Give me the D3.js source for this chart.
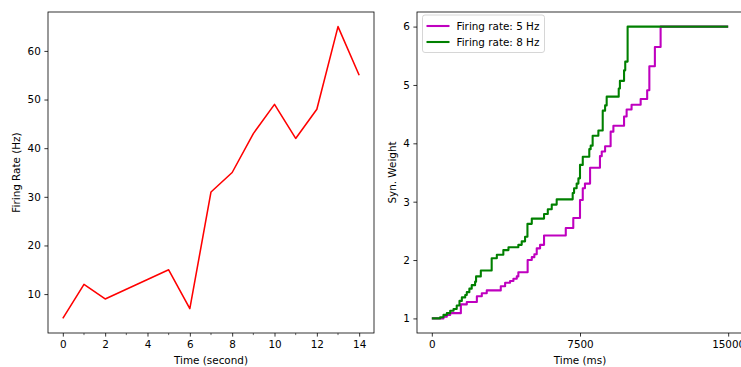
<!DOCTYPE html>
<html>
<head>
<meta charset="utf-8">
<script src="https://cdn.jsdelivr.net/npm/d3@7"></script>
<style>
    body { margin: 0; background: #fff; }
    svg { display: block; font-family: "DejaVu Sans", sans-serif; }
</style>
</head>
<body>
<div id="chart"></div>
<script>
// left panel: firing rate per second
const rateSeconds = [0, 1, 2, 3, 4, 5, 6, 7, 8, 9, 10, 11, 12, 13, 14];
const firingRate = [5, 12, 9, 11, 13, 15, 7, 31, 35, 43, 49, 42, 48, 65, 55];

// right panel: synaptic weight, value holds until the next change
const time5Hz = [0, 590, 760, 930, 1470, 1770, 2280, 2530, 2780, 3490, 3710, 3960, 4130, 4300, 4380,
    4850, 5060, 5190, 5310, 5480, 5680, 6780, 7160, 7500, 7640, 7750, 8010, 8510, 8600, 8770,
    9050, 9190, 9730, 9860, 10110, 10570, 10900, 11010, 11290, 11580, 15000];
const weight5Hz = [1.0, 1.03, 1.06, 1.09, 1.24, 1.28, 1.38, 1.43, 1.48, 1.55, 1.61, 1.64, 1.68, 1.72, 1.79,
    2.0, 2.05, 2.1, 2.2, 2.26, 2.42, 2.55, 2.72, 3.03, 3.23, 3.31, 3.58, 3.78, 3.86, 3.95,
    4.2, 4.3, 4.46, 4.58, 4.66, 4.76, 4.91, 5.32, 5.65, 6.0, 6.0];

const time8Hz = [0, 420, 590, 760, 930, 1100, 1260, 1400, 1520, 1690, 1770, 1900, 2020, 2190, 2240,
    2480, 3030, 3290, 3620, 3880, 4380, 4550, 4720, 4840, 5060, 5680, 5870, 6070, 6320, 7130,
    7200, 7330, 7420, 7500, 7640, 7970, 8040, 8140, 8430, 8650, 8770, 8850, 9460, 9520, 9730,
    9790, 9910, 15000];
const weight8Hz = [1.0, 1.02, 1.06, 1.09, 1.13, 1.16, 1.22, 1.3, 1.36, 1.4, 1.45, 1.51, 1.57, 1.63, 1.72,
    1.82, 2.03, 2.09, 2.17, 2.22, 2.26, 2.32, 2.4, 2.62, 2.71, 2.79, 2.87, 2.95, 3.04, 3.15,
    3.23, 3.31, 3.4, 3.63, 3.77, 3.9, 3.96, 4.13, 4.22, 4.56, 4.65, 4.8, 4.94, 5.07, 5.25,
    5.4, 6.0, 6.0];

const legendLabels = ["Firing rate: 5 Hz", "Firing rate: 8 Hz"];

const rateXTicks = [0, 2, 4, 6, 8, 10, 12, 14];
const rateXMinorTicks = [1, 3, 5, 7, 9, 11, 13];
const rateYTicks = [10, 20, 30, 40, 50, 60];
const weightXTicks = [0, 7500, 15000];
const weightYTicks = [1, 2, 3, 4, 5, 6];

const width = 741;
const height = 367;
const fontSize = 10.4;
const tickLen = 3.6;

const leftBox = { x0: 48, x1: 374, y0: 12, y1: 333 };
const rightBox = { x0: 417, x1: 743, y0: 12, y1: 333 };

const svg = d3.select("#chart")
    .append("svg")
    .attr("width", width)
    .attr("height", height)
    .style("overflow", "hidden");

function drawAxes(box, xScale, yScale, xTicks, yTicks, xLabel, yLabel, yLabelX, xFormat) {
    const g = svg.append("g");

    const xAxis = d3.axisBottom(xScale)
        .tickValues(xTicks)
        .tickSize(tickLen)
        .tickPadding(3.6)
        .tickSizeOuter(0)
        .tickFormat(xFormat || d3.format("d"));

    const yAxis = d3.axisLeft(yScale)
        .tickValues(yTicks)
        .tickSize(tickLen)
        .tickPadding(3.6)
        .tickSizeOuter(0)
        .tickFormat(d3.format("d"));

    const gx = g.append("g")
        .attr("transform", "translate(0," + box.y1 + ")")
        .call(xAxis);
    const gy = g.append("g")
        .attr("transform", "translate(" + box.x0 + ",0)")
        .call(yAxis);

    [gx, gy].forEach(a => {
        a.select(".domain").remove();
        a.attr("font-size", fontSize).attr("font-family", "DejaVu Sans");
        a.selectAll("line").attr("stroke", "#000").attr("stroke-width", 0.8);
        a.selectAll("text").attr("fill", "#000");
    });

    g.append("text")
        .attr("x", (box.x0 + box.x1) / 2)
        .attr("y", 363.5)
        .attr("text-anchor", "middle")
        .attr("font-size", fontSize)
        .text(xLabel);

    g.append("text")
        .attr("transform", "translate(" + yLabelX + "," + (box.y0 + box.y1) / 2 + ") rotate(-90)")
        .attr("text-anchor", "middle")
        .attr("font-size", fontSize)
        .text(yLabel);

    return g;
}

function drawFrame(box) {
    svg.append("rect")
        .attr("x", box.x0)
        .attr("y", box.y0)
        .attr("width", box.x1 - box.x0)
        .attr("height", box.y1 - box.y0)
        .attr("fill", "none")
        .attr("stroke", "#000")
        .attr("stroke-width", 0.8);
}

// ---- left panel ----
const xRate = d3.scaleLinear().domain([-0.7, 14.7]).range([leftBox.x0, leftBox.x1]);
const yRate = d3.scaleLinear().domain([2, 68]).range([leftBox.y1, leftBox.y0]);

drawAxes(leftBox, xRate, yRate, rateXTicks, rateYTicks, "Time (second)", "Firing Rate (Hz)", 20);

svg.append("g")
    .selectAll("line")
    .data(rateXMinorTicks)
    .join("line")
    .attr("x1", d => xRate(d))
    .attr("x2", d => xRate(d))
    .attr("y1", leftBox.y1)
    .attr("y2", leftBox.y1 + 2.1)
    .attr("stroke", "#000")
    .attr("stroke-width", 0.6);

const rateLine = d3.line()
    .x((d, i) => xRate(rateSeconds[i]))
    .y(d => yRate(d));

svg.append("path")
    .datum(firingRate)
    .attr("fill", "none")
    .attr("stroke", "#ff0000")
    .attr("stroke-width", 1.56)
    .attr("stroke-linejoin", "round")
    .attr("d", rateLine);

drawFrame(leftBox);

// ---- right panel ----
const xTime = d3.scaleLinear().domain([-750, 15750]).range([rightBox.x0, rightBox.x1]);
const yWeight = d3.scaleLinear().domain([0.75, 6.25]).range([rightBox.y1, rightBox.y0]);

drawAxes(rightBox, xTime, yWeight, weightXTicks, weightYTicks, "Time (ms)", "Syn. Weight", 395.5, d3.format("d"));

const weightLine = d3.line()
    .curve(d3.curveStepAfter)
    .x(d => xTime(d[0]))
    .y(d => yWeight(d[1]));

const series = [
    { color: "#bf00bf", points: d3.zip(time5Hz, weight5Hz) },
    { color: "#008000", points: d3.zip(time8Hz, weight8Hz) }
];

series.forEach(s => {
    svg.append("path")
        .datum(s.points)
        .attr("fill", "none")
        .attr("stroke", s.color)
        .attr("stroke-width", 2.08)
        .attr("stroke-linejoin", "round")
        .attr("d", weightLine);
});

drawFrame(rightBox);

// legend
const legend = svg.append("g").attr("transform", "translate(422.5,15)");
legend.append("rect")
    .attr("width", 122)
    .attr("height", 37.5)
    .attr("rx", 2.5)
    .attr("fill", "#fff")
    .attr("fill-opacity", 0.8)
    .attr("stroke", "#ccc")
    .attr("stroke-width", 0.8);

legendLabels.forEach((label, i) => {
    const yy = 11 + i * 16;
    legend.append("line")
        .attr("x1", 4)
        .attr("x2", 27)
        .attr("y1", yy)
        .attr("y2", yy)
        .attr("stroke", series[i].color)
        .attr("stroke-width", 2.08);
    legend.append("text")
        .attr("x", 34)
        .attr("y", yy + 3.8)
        .attr("font-size", fontSize)
        .attr("fill", "#000")
        .text(label);
});
</script>
</body>
</html>
